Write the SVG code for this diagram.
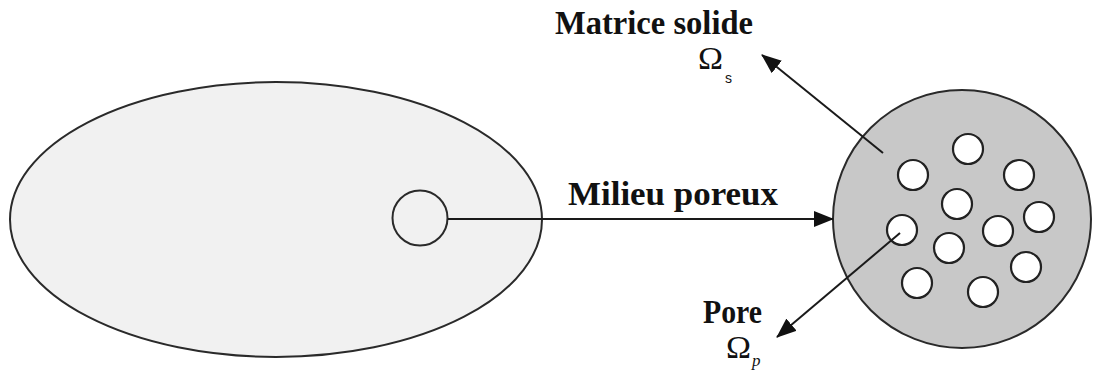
<svg xmlns="http://www.w3.org/2000/svg" width="1094" height="381" viewBox="0 0 1094 381">
  <style>
    .lbl { font-family: "Liberation Serif", "Times New Roman", serif; font-weight: bold; font-size: 34px; fill: #111; }
    .omega { font-family: "Liberation Serif", "Times New Roman", serif; font-size: 31px; fill: #111; }
    .sub { font-family: "Liberation Sans", Arial, sans-serif; font-size: 14px; fill: #111; }
    .subp { font-family: "Liberation Serif", "Times New Roman", serif; font-style: italic; font-size: 17px; fill: #111; }
    .conn { stroke: #1a1a1a; stroke-width: 2; fill: none; }
    .hole { fill: #ffffff; stroke: #222; stroke-width: 2.2; }
  </style>
  <defs>
    <marker id="arrow" markerUnits="userSpaceOnUse" markerWidth="20" markerHeight="16" refX="19" refY="8" orient="auto">
      <path d="M0,0 L20,8 L0,16 Z" fill="#111"/>
    </marker>
  </defs>
  <rect width="1094" height="381" fill="#ffffff"/>

  <g id="domain">
    <ellipse cx="276" cy="219.5" rx="266" ry="137.5" fill="#f1f1f1" stroke="#2a2a2a" stroke-width="2"/>
    <circle cx="420" cy="218" r="27.5" fill="#f1f1f1" stroke="#2a2a2a" stroke-width="2"/>
  </g>

  <g id="porous-medium">
    <circle cx="962" cy="219" r="129" fill="#c8c8c8" stroke="#2a2a2a" stroke-width="2"/>
    <circle class="hole" cx="968" cy="149" r="15"/>
    <circle class="hole" cx="913" cy="175" r="15"/>
    <circle class="hole" cx="1019" cy="175" r="15"/>
    <circle class="hole" cx="957" cy="204" r="15"/>
    <circle class="hole" cx="1039" cy="217" r="15"/>
    <circle class="hole" cx="902" cy="230" r="15"/>
    <circle class="hole" cx="998" cy="231" r="15"/>
    <circle class="hole" cx="949" cy="248" r="15"/>
    <circle class="hole" cx="1026" cy="267" r="15"/>
    <circle class="hole" cx="917" cy="283" r="15"/>
    <circle class="hole" cx="983" cy="292" r="15"/>
  </g>

  <g id="connectors">
    <line class="conn" x1="448" y1="219" x2="833" y2="219" marker-end="url(#arrow)"/>
    <line class="conn" x1="883" y1="153" x2="762" y2="55" marker-end="url(#arrow)"/>
    <line class="conn" x1="900" y1="233" x2="777" y2="337" marker-end="url(#arrow)"/>
  </g>

  <g id="label-milieu">
    <text class="lbl" x="568" y="205" textLength="210" lengthAdjust="spacingAndGlyphs">Milieu poreux</text>
  </g>

  <g id="label-matrice">
    <text class="lbl" x="555" y="34" textLength="198" lengthAdjust="spacingAndGlyphs">Matrice solide</text>
    <text class="omega" x="698" y="69" textLength="25" lengthAdjust="spacingAndGlyphs">Ω</text>
    <text class="sub" x="725" y="83">s</text>
  </g>

  <g id="label-pore">
    <text class="lbl" x="703" y="323" textLength="59" lengthAdjust="spacingAndGlyphs">Pore</text>
    <text class="omega" x="726" y="358" textLength="25" lengthAdjust="spacingAndGlyphs">Ω</text>
    <text class="subp" x="752" y="366">p</text>
  </g>
</svg>
